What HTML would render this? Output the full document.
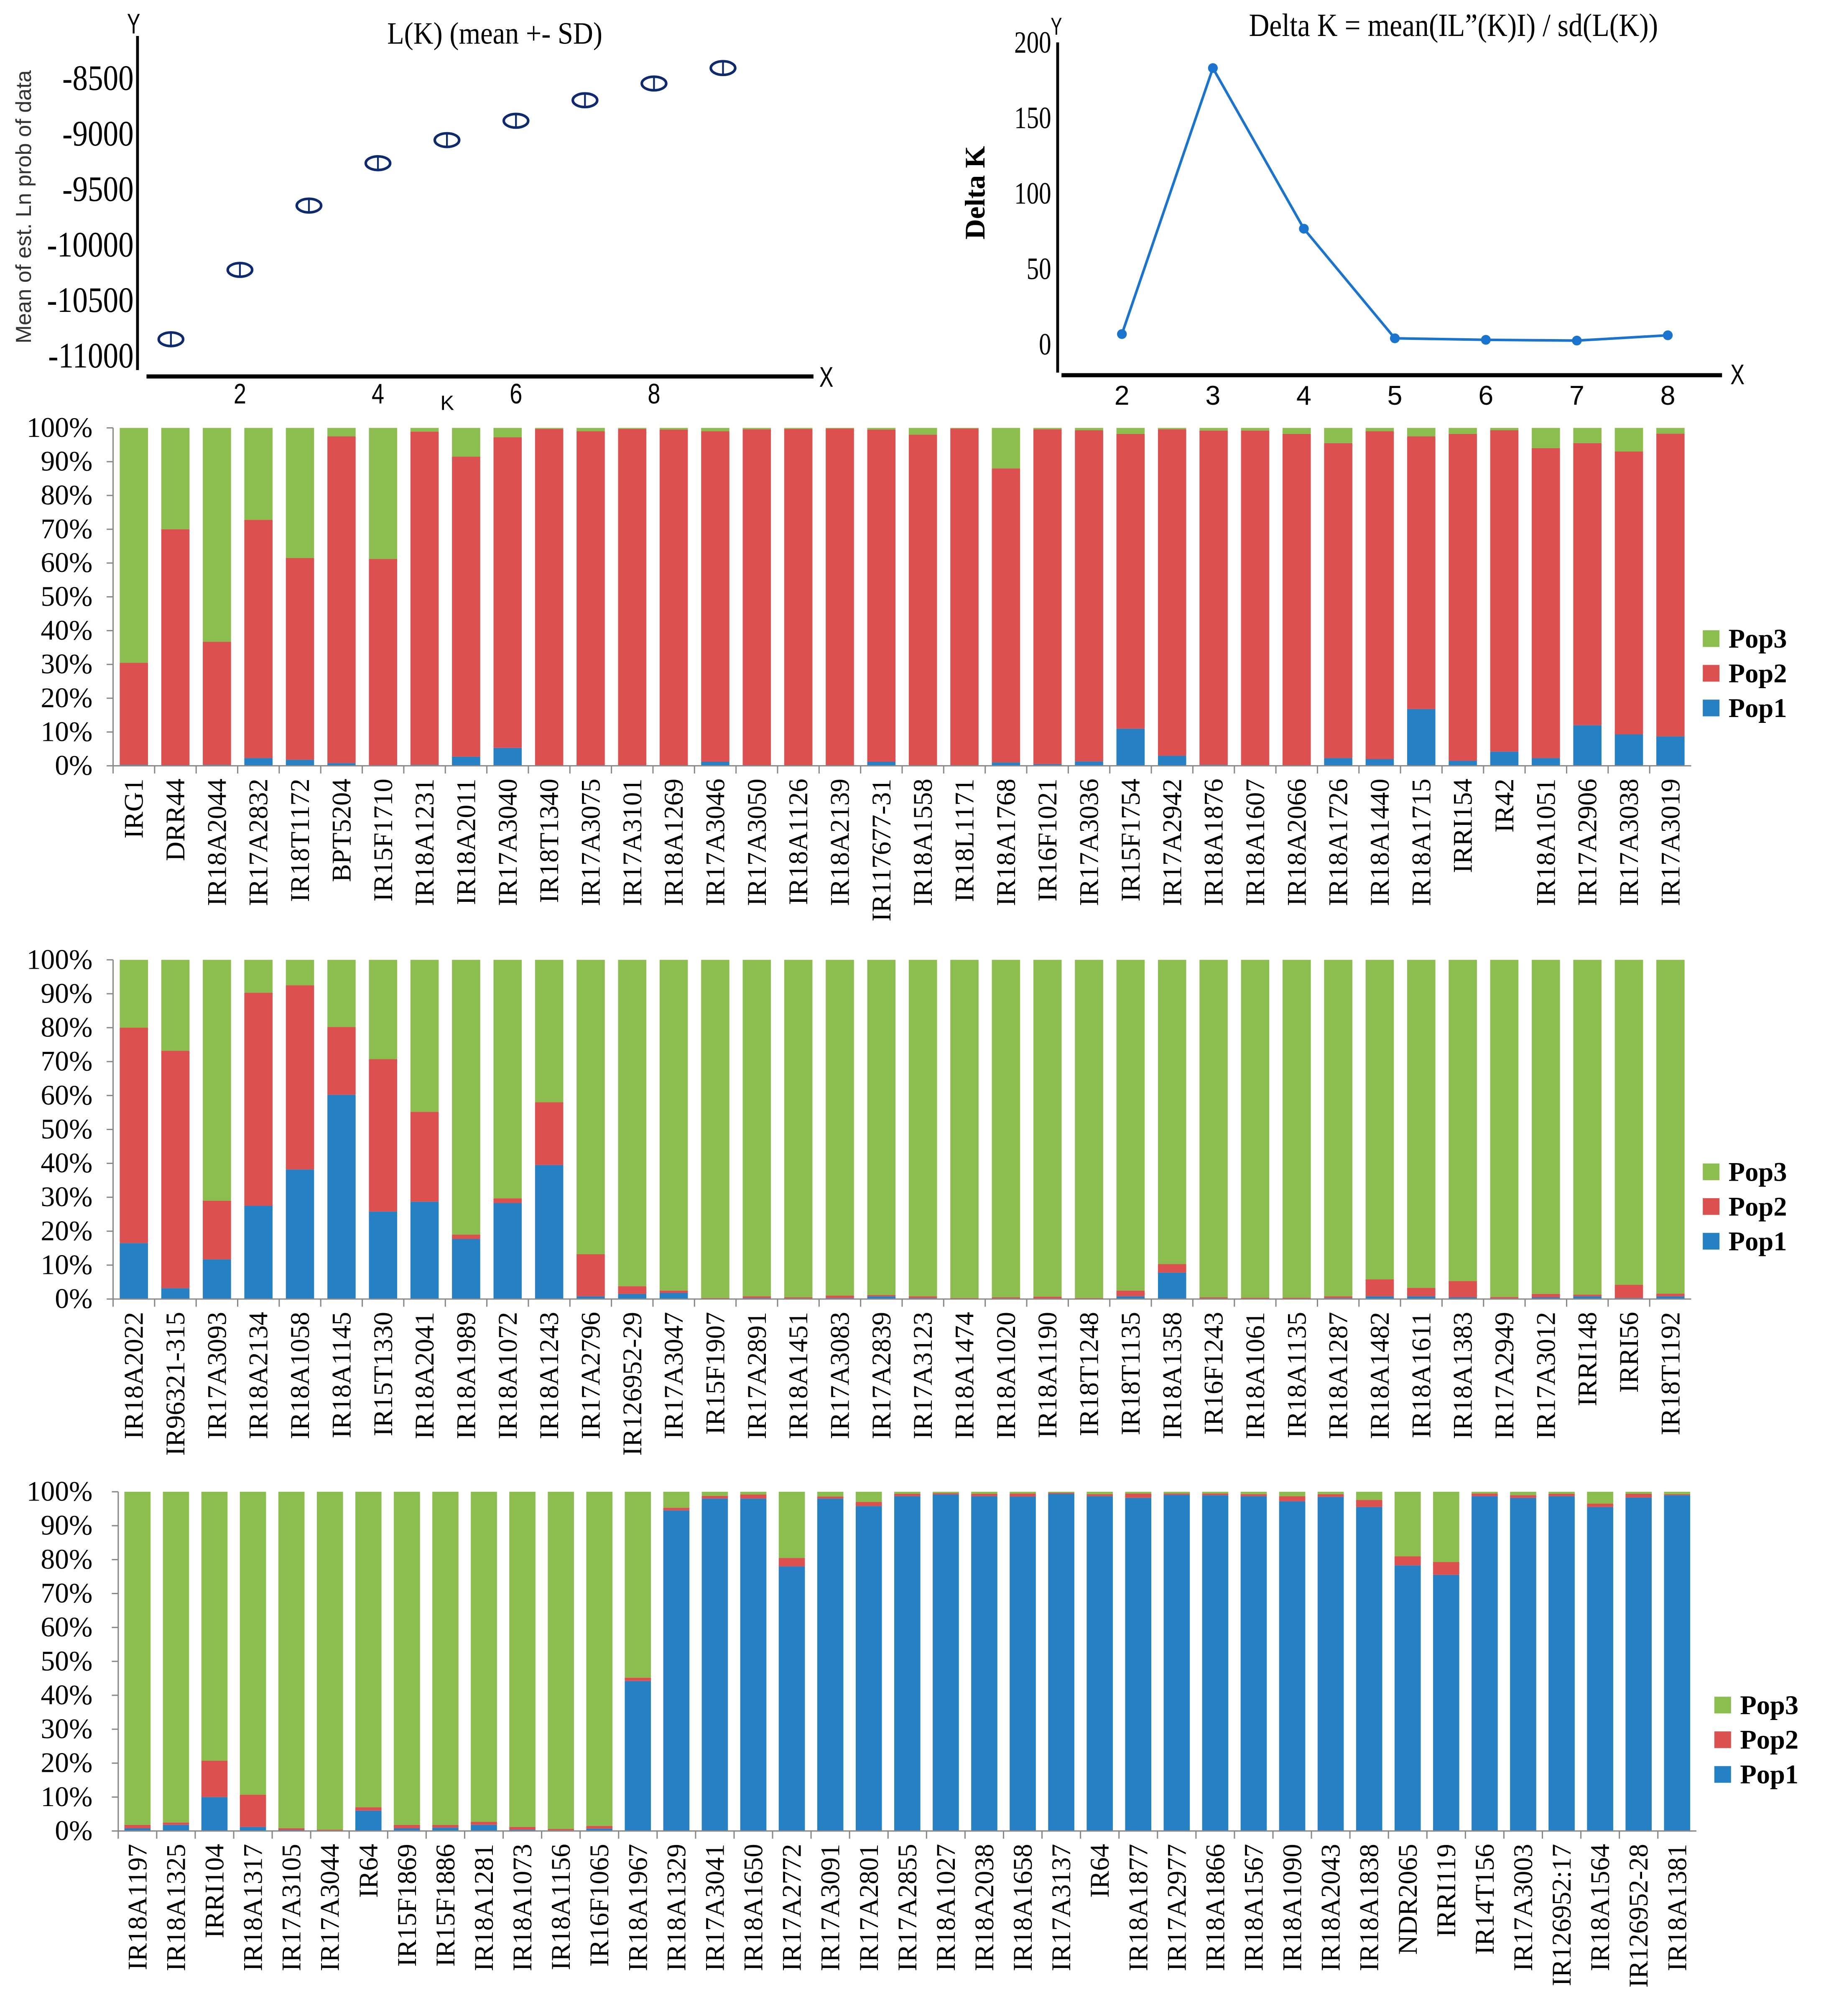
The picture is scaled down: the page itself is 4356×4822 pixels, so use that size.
<!DOCTYPE html>
<html><head><meta charset="utf-8"><style>
html,body{margin:0;padding:0;background:#fff;}
svg{display:block;}
</style></head>
<body>
<svg id="root" xmlns="http://www.w3.org/2000/svg" width="4356" height="4822" viewBox="0 0 1417 1569" preserveAspectRatio="none" font-family="Liberation Serif, serif">
<rect x="0" y="0" width="1417" height="1569" fill="#fff"/>
</svg>
<script>
// ---------- Data ----------
const lkK = [1,2,3,4,5,6,7,8,9];
const lkMean = [-10850,-10225,-9646,-9264,-9056,-8882,-8697,-8546,-8407];
const lkYTicks = [-8500,-9000,-9500,-10000,-10500,-11000];
const lkXTicks = [2,4,6,8];

const dkK = [2,3,4,5,6,7,8];
const dkVal = [6.8,183,76.6,4,3,2.5,6];
const dkYTicks = [0,50,100,150,200];

const pctTicks = [0,10,20,30,40,50,60,70,80,90,100];

const names1 = ["IRG1","DRR44","IR18A2044","IR17A2832","IR18T1172","BPT5204","IR15F1710","IR18A1231","IR18A2011","IR17A3040","IR18T1340","IR17A3075","IR17A3101","IR18A1269","IR17A3046","IR17A3050","IR18A1126","IR18A2139","IR117677-31","IR18A1558","IR18L1171","IR18A1768","IR16F1021","IR17A3036","IR15F1754","IR17A2942","IR18A1876","IR18A1607","IR18A2066","IR18A1726","IR18A1440","IR18A1715","IRRI154","IR42","IR18A1051","IR17A2906","IR17A3038","IR17A3019"];
const pop1a = [0.3,0.2,0.3,2.3,1.8,0.8,0.2,0.3,2.7,5.3,0,0.2,0.2,0.1,1.2,0.1,0.1,0.1,1.2,0.1,0.1,1,0.5,1.3,11,3,0.3,0.1,0.1,2.3,2,16.8,1.5,4.2,2.3,12,9.3,8.7];
const pop2a = [30.2,69.8,36.4,70.5,59.7,96.7,61,98.6,88.8,91.9,99.7,98.8,99.5,99.4,97.8,99.5,99.6,99.7,98.3,97.9,99.7,87,99.1,98,87.2,96.6,98.9,99.1,98.1,93.2,97,80.7,96.7,95.1,91.7,83.5,83.7,89.6];

const names2 = ["IR18A2022","IR96321-315","IR17A3093","IR18A2134","IR18A1058","IR18A1145","IR15T1330","IR18A2041","IR18A1989","IR18A1072","IR18A1243","IR17A2796","IR126952-29","IR17A3047","IR15F1907","IR17A2891","IR18A1451","IR17A3083","IR17A2839","IR17A3123","IR18A1474","IR18A1020","IR18A1190","IR18T1248","IR18T1135","IR18A1358","IR16F1243","IR18A1061","IR18A1135","IR18A1287","IR18A1482","IR18A1611","IR18A1383","IR17A2949","IR17A3012","IRRI148","IRRI56","IR18T1192"];
const pop1b = [16.5,3.2,11.7,27.5,38.2,60.2,25.8,28.7,17.7,28.3,39.5,0.8,1.5,1.8,0.1,0.3,0.2,0.3,0.8,0.3,0.1,0.2,0.2,0.1,0.8,7.8,0.2,0.1,0.1,0.3,0.8,0.8,0.5,0.2,0.5,0.8,0.3,0.8];
const pop2b = [63.5,70,17.3,62.8,54.3,20,44.9,26.5,1.3,1.4,18.5,12.4,2.3,0.7,0.2,0.5,0.3,0.7,0.4,0.5,0.2,0.3,0.5,0.2,1.7,2.5,0.3,0.3,0.3,0.5,5,2.5,4.8,0.4,1,0.5,3.9,0.8];

const names3 = ["IR18A1197","IR18A1325","IRRI104","IR18A1317","IR17A3105","IR17A3044","IR64","IR15F1869","IR15F1886","IR18A1281","IR18A1073","IR18A1156","IR16F1065","IR18A1967","IR18A1329","IR17A3041","IR18A1650","IR17A2772","IR17A3091","IR17A2801","IR17A2855","IR18A1027","IR18A2038","IR18A1658","IR17A3137","IR64","IR18A1877","IR17A2977","IR18A1866","IR18A1567","IR18A1090","IR18A2043","IR18A1838","NDR2065","IRRI119","IR14T156","IR17A3003","IR126952:17","IR18A1564","IR126952-28","IR18A1381"];
const pop1c = [0.8,1.8,10,1.2,0.3,0.1,6,0.8,1,1.8,0.4,0.2,0.7,44.2,94.5,98,98,78,98,95.8,98.7,99.2,98.7,98.6,99.4,98.7,98.2,99.1,99,98.7,97.2,98.5,95.5,78.3,75.5,98.7,98.2,98.7,95.5,98.3,99];
const pop2c = [1,0.7,10.7,9.5,0.5,0.3,1,1,0.8,0.9,0.8,0.4,0.8,1,0.8,0.8,1.2,2.5,0.6,1.2,0.7,0.4,0.7,0.9,0.3,0.6,1.3,0.4,0.5,0.6,1.5,0.8,2.1,2.7,3.8,0.8,0.8,0.7,1,1.1,0.3];

const popColors = ["#2581c4","#dc514f","#8cbd4f"];
const popNames = ["Pop1","Pop2","Pop3"];

// ---------- helpers ----------
const NS = "http://www.w3.org/2000/svg";
const root = document.getElementById("root");
const SANS = "Liberation Sans, sans-serif";
function mk(tag, attrs, parent, txt){
  const e = document.createElementNS(NS, tag);
  for (const k in attrs) e.setAttribute(k, attrs[k]);
  if (txt !== undefined) e.textContent = txt;
  (parent||root).appendChild(e);
  return e;
}
function sx(x,y,s){ return `translate(${x},${y}) scale(${s},1) translate(${-x},${-y})`; }

// ---------- L(K) chart ----------
(function(){
  const g = mk("g",{});
  
  
  const yv = v => 61 + (-8500 - v)/500*43.2;
  const xv = k => 133 + (k-1)*53.7;
  const ya = mk("line",{x1:107,y1:28,x2:107,y2:288,stroke:"#000","stroke-width":2.2},g);
  
  
  const xa = mk("line",{x1:114,y1:293,x2:633,y2:293,stroke:"#000","stroke-width":3.2},g);
  
  
  const yl = mk("text",{x:104,y:26,"font-size":22,"text-anchor":"middle","font-family":SANS,transform:sx(104,26,0.7)},g,"Y");
  
  
  const xl = mk("text",{x:643,y:301,"font-size":22,"text-anchor":"middle","font-family":SANS,transform:sx(643,301,0.75)},g,"X");
  
  
  const t = mk("text",{x:385,y:34,"font-size":24,"text-anchor":"middle",transform:sx(385,34,0.9)},g,"L(K) (mean +- SD)");
  
  
  lkYTicks.forEach(v=>{
    const y = yv(v)+9;
    const e = mk("text",{x:104,y:y,"font-size":28,"text-anchor":"end",transform:sx(104,y,0.85)},g,String(v));
    
    
  });
  lkXTicks.forEach(k=>{
    const e = mk("text",{x:xv(k),y:314,"font-size":22,"text-anchor":"middle","font-family":SANS,transform:sx(xv(k),314,0.8)},g,String(k));
    
    
  });
  const kl = mk("text",{x:348,y:319,"font-size":16,"text-anchor":"middle","font-family":SANS},g,"K");
  
  
  const yt = mk("text",{x:0,y:0,"font-size":17,"text-anchor":"middle",fill:"#333","font-family":SANS,transform:"translate(24,161) rotate(-90)"},g,"Mean of est. Ln prob of data");
  
  
  lkK.forEach((k,i)=>{
    const cx = xv(k), cy = yv(lkMean[i]);
    const pg = mk("g",{},g);
    
    
    mk("ellipse",{cx:cx,cy:cy,rx:9.5,ry:5.3,fill:"none",stroke:"#0d2a6e","stroke-width":2},pg);
    mk("line",{x1:cx,y1:cy-6,x2:cx,y2:cy+6,stroke:"#0d2a6e","stroke-width":1.4},pg);
  });
})();

// ---------- Delta K chart ----------
(function(){
  const g = mk("g",{});
  
  
  const yv = v => 268 - v*1.175;
  const xv = k => 873 + (k-2)*70.8;
  const ya = mk("line",{x1:823,y1:33,x2:823,y2:290,stroke:"#000","stroke-width":2.2},g);
  
  
  const xa = mk("line",{x1:826,y1:292,x2:1340,y2:292,stroke:"#000","stroke-width":3.2},g);
  
  
  const yl = mk("text",{x:822,y:27,"font-size":19,"text-anchor":"middle","font-family":SANS,transform:sx(822,27,0.7)},g,"Y");
  
  
  const xl = mk("text",{x:1352,y:299,"font-size":22,"text-anchor":"middle","font-family":SANS,transform:sx(1352,299,0.75)},g,"X");
  
  
  const t = mk("text",{x:1131,y:28,"font-size":25,"text-anchor":"middle",transform:sx(1131,28,0.88)},g,"Delta K = mean(IL\u201D(K)I) / sd(L(K))");
  
  
  dkYTicks.forEach(v=>{
    const y = yv(v)+8;
    const e = mk("text",{x:818,y:y,"font-size":24,"text-anchor":"end",transform:sx(818,y,0.8)},g,String(v));
    
    
  });
  dkK.forEach(k=>{
    const e = mk("text",{x:xv(k),y:315,"font-size":21,"text-anchor":"middle","font-family":SANS},g,String(k));
    
    
  });
  const yt = mk("text",{x:0,y:0,"font-size":22,"font-weight":"bold","text-anchor":"middle",transform:"translate(766,150) rotate(-90)"},g,"Delta K");
  
  
  const pts = dkK.map((k,i)=>xv(k)+","+yv(dkVal[i])).join(" ");
  const pl = mk("polyline",{points:pts,fill:"none",stroke:"#1a73cc","stroke-width":2},g);
  
  
  dkK.forEach((k,i)=>{
    const c = mk("circle",{cx:xv(k),cy:yv(dkVal[i]),r:3.8,fill:"#1a73cc"},g);
    
    
  });
})();

// ---------- stacked bar panels ----------
function panel(idx, names, p1, p2, x0, x1, yTop, yBot, legX, legY){
  const g = mk("g",{});
  
  
  const n = names.length;
  const step = (x1-x0)/n;
  const bw = step*0.68;
  const yv = v => yBot - v/100*(yBot-yTop);
  names.forEach((nm,i)=>{
    const cx = x0 + (i+0.5)*step;
    const vals = [p1[i], p2[i], Math.max(0,100-p1[i]-p2[i])];
    let acc = 0;
    vals.forEach((v,j)=>{
      const r = mk("rect",{x:cx-bw/2,y:yv(acc+v),width:bw,height:Math.max(0,yv(acc)-yv(acc+v)),fill:popColors[j]},g);
      
      
      acc += v;
    });
    const lt = mk("text",{x:0,y:0,"font-size":21,"text-anchor":"end",transform:`translate(${cx+7},${yBot+10}) rotate(-90)`},g,nm);
    
    
    const tk = mk("line",{x1:x0+i*step,y1:yBot,x2:x0+i*step,y2:yBot+6,stroke:"#888","stroke-width":1},g);
    
    
  });
  const ya = mk("line",{x1:x0,y1:yTop,x2:x0,y2:yBot,stroke:"#888","stroke-width":1},g);
  
  
  const xa = mk("line",{x1:x0,y1:yBot,x2:x1,y2:yBot,stroke:"#888","stroke-width":1},g);
  
  
  pctTicks.forEach(v=>{
    const tk = mk("line",{x1:x0-5,y1:yv(v),x2:x0,y2:yv(v),stroke:"#888","stroke-width":1},g);
    
    
    const t = mk("text",{x:72,y:yv(v)+7,"font-size":22,"text-anchor":"end"},g,v+"%");
    
    
  });
  [2,1,0].forEach((j,k)=>{
    const yy = legY + k*27;
    const lg = mk("g",{},g);
    
    
    mk("rect",{x:legX,y:yy-6.5,width:13,height:13,fill:popColors[j]},lg);
    mk("text",{x:legX+20,y:yy+7,"font-size":21,"font-weight":"bold"},lg,popNames[j]);
  });
}
panel(1, names1, pop1a, pop2a, 88, 1316, 333, 596, 1325, 497);
panel(2, names2, pop1b, pop2b, 88, 1316, 747, 1011, 1325, 912);
panel(3, names3, pop1c, pop2c, 92, 1320, 1161, 1425, 1334, 1327);
</script>
</body></html>
